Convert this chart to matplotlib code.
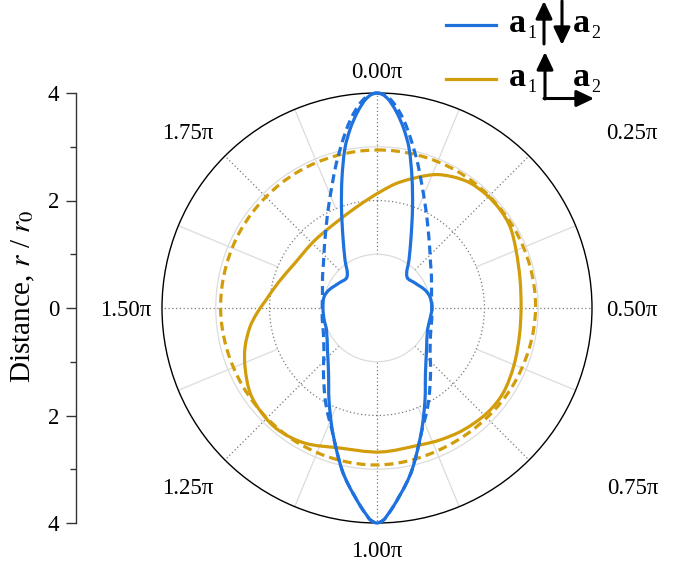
import numpy as np
import matplotlib
matplotlib.use('Agg')
import matplotlib.pyplot as plt
from matplotlib.patches import FancyArrowPatch, ArrowStyle, PathPatch
from matplotlib.lines import Line2D
from matplotlib.path import Path
from matplotlib.transforms import Affine2D

plt.rcParams['font.family'] = ['Liberation Serif', 'DejaVu Serif']
plt.rcParams['mathtext.fontset'] = 'stix'

# ---------------- data (theta in degrees, clockwise from top; r in r0) ----------------
blue_solid_deg = [0.0, 1.69, 3.01, 3.93, 5.86, 8.37, 11.31, 15.07, 19.55, 25.9, 33.69, 44.06,
                  56.66, 69.44, 78.27, 90.0, 101.7, 113.5, 130.3, 143.3, 152.45, 159.44, 164.08,
                  167.81, 170.43, 173.18, 175.4, 177.1, 178.24, 180.0, 181.76, 182.9, 184.6,
                  186.82, 189.57, 192.19, 195.92, 200.56, 207.55, 216.7, 229.7, 246.5, 258.3,
                  270.0, 281.73, 290.56, 303.34, 315.94, 326.31, 334.1, 340.45, 344.93, 348.69,
                  351.63, 354.14, 356.07, 356.99, 358.31, 360.0]
blue_solid_r = [4.00, 3.965, 3.894, 3.823, 3.647, 3.385, 3.036, 2.505, 1.974, 1.448, 1.073, 0.803,
                0.846, 0.954, 1.007, 1.023, 1.007, 1.025, 1.208, 1.509, 1.931, 2.385, 2.747,
                3.083, 3.302, 3.522, 3.714, 3.856, 3.946, 4.00, 3.946, 3.856, 3.714,
                3.522, 3.302, 3.083, 2.747, 2.385, 1.931, 1.509, 1.208, 1.025, 1.007,
                1.005, 1.007, 0.954, 0.846, 0.803, 1.073, 1.448, 1.974, 2.505, 3.036,
                3.385, 3.647, 3.823, 3.894, 3.965, 4.00]

blue_dash_deg = [0, 2, 4, 6, 8, 10, 13, 16, 20, 25, 30, 40, 50, 60, 75, 90, 101.7, 113.5, 128.4,
                 140, 149.7, 155, 159.44, 164.08, 167.81, 170.43, 173.18, 175.4, 177.1, 178.24,
                 180.0, 181.76, 182.9, 184.6, 186.82, 189.57, 192.19, 195.92, 200.56, 205, 210.3,
                 220, 231.6, 246.5, 258.3, 270, 285, 300, 310, 320, 330, 335, 340, 344, 347, 350,
                 352, 354, 356, 358, 360]
blue_dash_r = [4.00, 3.97, 3.87, 3.72, 3.54, 3.34, 3.04, 2.77, 2.44, 2.12, 1.87, 1.52, 1.30, 1.17,
               1.05, 1.02, 1.04, 1.09, 1.26, 1.55, 1.92, 2.17, 2.40, 2.75, 3.083, 3.302, 3.522,
               3.714, 3.856, 3.946, 4.00, 3.946, 3.856, 3.714, 3.522, 3.302, 3.083, 2.75, 2.40,
               2.17, 1.92, 1.55, 1.26, 1.09, 1.04, 1.02, 1.05, 1.17, 1.30, 1.52, 1.87, 2.12,
               2.44, 2.77, 3.04, 3.34, 3.54, 3.72, 3.87, 3.97, 4.00]

orange_solid_deg = [1.5, 10.3, 22.8, 30.1, 36.7, 44.2, 51.5, 58.7, 67.35, 78.54, 90.0, 100.73,
                    112.59, 124.0, 133.7, 144.8, 154.5, 162.6, 178.8, 195.6, 208.1, 219.1, 227.6,
                    236.2, 245.9, 253.5, 261.5, 267.6, 274.1, 284.2, 298.8, 317.6, 338.8, 351.25,
                    361.5]
orange_solid_r = [2.16, 2.38, 2.69, 2.82, 2.90, 2.93, 2.93, 2.90, 2.802, 2.715, 2.68, 2.698,
                  2.761, 2.83, 2.83, 2.78, 2.72, 2.67, 2.68, 2.70, 2.85, 2.92, 2.90,
                  2.84, 2.69, 2.56, 2.39, 2.234, 2.071, 1.90, 1.74, 1.71, 1.80, 1.958,
                  2.16]

orange_dash_deg = [0, 30, 60, 90, 120, 150, 180, 210, 240, 270, 300, 330, 360]
orange_dash_r = [2.94, 2.95, 2.95, 2.95, 2.91, 2.88, 2.92, 2.91, 2.89, 2.91, 2.92, 2.93, 2.94]

theta_major_deg = [0, 45, 90, 135, 180, 225, 270, 315]
theta_minor_deg = [22.5, 67.5, 112.5, 157.5, 202.5, 247.5, 292.5, 337.5]
theta_labels = ['0.00π', '0.25π', '0.50π', '0.75π', '1.00π', '1.25π', '1.50π', '1.75π']
r_rings = [1, 2, 3]
left_ticks = [-4, -2, 0, 2, 4]
left_ticklabels = ['4', '2', '0', '2', '4']
left_minor = [-3, -1, 1, 3]

BLUE = '#1f72de'
ORANGE = '#d29d0b'
FS = 16.5

# ---------------- figure ----------------
W, H = 685, 567
fig = plt.figure(figsize=(W / 100, H / 100), dpi=100)
pix = Affine2D().scale(1 / W, -1 / H).translate(0, 1) + fig.transFigure

cx, cy, R = 377, 308, 215
ax = fig.add_axes([(cx - R) / W, (H - cy - R) / H, 2 * R / W, 2 * R / H], projection='polar')
ax.set_theta_zero_location('N')
ax.set_theta_direction(-1)
ax.set_ylim(0, 4)

# rings
ax.set_rgrids(r_rings, labels=[''] * len(r_rings))
ax.xaxis.grid(False)
ax.yaxis.grid(True)
for r, gl in zip(r_rings, ax.yaxis.get_gridlines()):
    if r == 2:
        gl.set_color('#7a7a7a'); gl.set_linestyle((0, (1, 2))); gl.set_linewidth(0.9)
    else:
        gl.set_color('#dcdcdc'); gl.set_linestyle('-'); gl.set_linewidth(0.9)

# radial lines
for t in theta_major_deg:
    ax.plot([np.deg2rad(t)] * 2, [1, 4], color='#7a7a7a', lw=0.9, ls=(0, (1, 2)), zorder=1)
for t in theta_minor_deg:
    ax.plot([np.deg2rad(t)] * 2, [2, 4], color='#dcdcdc', lw=0.9, ls='-', zorder=1)

ax.set_xticks(np.deg2rad(theta_major_deg))
ax.set_xticks(np.deg2rad(theta_minor_deg), minor=True)
ax.set_xticklabels([])
ax.tick_params(axis='x', which='both', direction='out', length=7, width=0.9, color='#222222')
ax.tick_params(axis='y', length=0)
ax.spines['polar'].set_color('black')
ax.spines['polar'].set_linewidth(1.0)


# smooth closed curve through the read points (cubic Bezier, tangent from neighbours)
def smooth_closed_path(deg, r):
    deg = np.asarray(deg, float)
    rr = np.asarray(r, float)
    if np.isclose((deg[-1] - deg[0]) % 360, 0) and np.isclose(rr[-1], rr[0]):
        deg, rr = deg[:-1], rr[:-1]
    th = np.deg2rad(deg)
    P = np.column_stack([rr * np.sin(th), rr * np.cos(th)])
    n = len(P)
    T = np.roll(P, -1, 0) - np.roll(P, 1, 0)
    T /= np.linalg.norm(T, axis=1)[:, None]
    verts = [P[0]]
    codes = [Path.MOVETO]
    for i in range(n):
        j = (i + 1) % n
        d = np.linalg.norm(P[j] - P[i])
        verts += [P[i] + T[i] * d / 3, P[j] - T[j] * d / 3, P[j]]
        codes += [Path.CURVE4] * 3
    verts = np.array(verts)
    tv = np.arctan2(verts[:, 0], verts[:, 1])
    rv = np.hypot(verts[:, 0], verts[:, 1])
    return Path(np.column_stack([tv, rv]), codes)


def curve(deg, r, color, dashed, z):
    patch = PathPatch(smooth_closed_path(deg, r), transform=ax.transData, fill=False,
                      edgecolor=color, lw=2.3, zorder=z, clip_on=False,
                      linestyle=(0, (2.8, 1.6)) if dashed else '-')
    ax.add_patch(patch)


curve(orange_dash_deg, orange_dash_r, ORANGE, True, 3)
curve(orange_solid_deg, orange_solid_r, ORANGE, False, 4)
curve(blue_dash_deg, blue_dash_r, BLUE, True, 5)
curve(blue_solid_deg, blue_solid_r, BLUE, False, 6)

# theta labels (placed like reference)
label_pix = [(377, 78), (632, 139), (632, 316), (633, 494), (377, 557), (188, 494), (126, 316), (188, 139)]
for lab, (px, py) in zip(theta_labels, label_pix):
    fig.text(px, py, lab, transform=pix, ha='center', va='baseline', fontsize=FS)

# ---------------- left distance axis ----------------
ax2 = fig.add_axes([76 / W, (H - cy - R) / H, 0.0001, 2 * R / H])
ax2.set_ylim(-4, 4)
ax2.set_xticks([])
for s in ['top', 'right', 'bottom']:
    ax2.spines[s].set_visible(False)
ax2.spines['left'].set_color('#333333')
ax2.spines['left'].set_linewidth(1.0)
ax2.set_yticks(left_ticks)
ax2.set_yticklabels(left_ticklabels, fontsize=FS)
ax2.set_yticks(left_minor, minor=True)
ax2.tick_params(axis='y', which='major', length=7, width=1.0, color='#333333', pad=5)
ax2.tick_params(axis='y', which='minor', length=4, width=1.0, color='#333333')
ax2.patch.set_visible(False)
fig.text(23, 296, 'Distance, $r$ / $r_0$', transform=pix, rotation=90, ha='center',
         va='center', fontsize=21)

# ---------------- legend ----------------
fig.add_artist(Line2D([446, 496], [25, 25], transform=pix, color=BLUE, lw=2.3))
fig.add_artist(Line2D([446, 496], [79, 79], transform=pix, color=ORANGE, lw=2.3))
for y in (32, 86):
    fig.text(509, y, 'a', transform=pix, fontsize=24.5, fontweight='bold', ha='left', va='baseline')
    fig.text(527.5, y + 6, '1', transform=pix, fontsize=13, ha='left', va='baseline')
    fig.text(573, y, 'a', transform=pix, fontsize=24.5, fontweight='bold', ha='left', va='baseline')
    fig.text(591.5, y + 6, '2', transform=pix, fontsize=13, ha='left', va='baseline')

style = ArrowStyle('-|>', head_length=1.05, head_width=0.5)
def arrow(p0, p1):
    a = FancyArrowPatch(p0, p1, transform=pix, arrowstyle=style, mutation_scale=10,
                        lw=2.2, color='black', shrinkA=0, shrinkB=0)
    fig.add_artist(a)

arrow((544, 44), (544, 1))
arrow((562, 1), (562, 45))
arrow((545, 99), (545, 52))
arrow((544, 98.5), (594, 98.5))

fig.savefig('out.png', dpi=100)
